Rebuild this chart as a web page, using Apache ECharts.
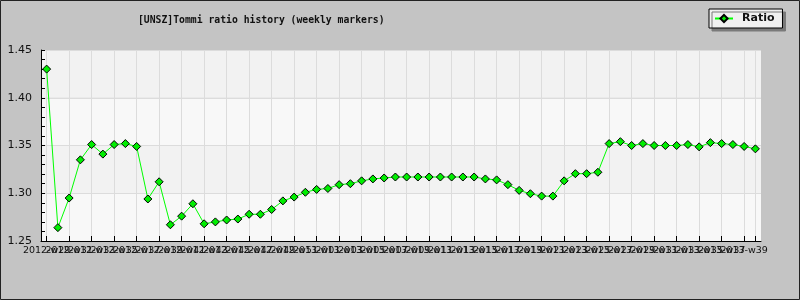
<!DOCTYPE html>
<html>
<head>
<meta charset="utf-8">
<script src="https://cdn.jsdelivr.net/npm/echarts@6/dist/echarts.min.js"></script>
<style>html,body{margin:0;padding:0;background:#c4c4c4}#c{width:800px;height:300px}</style>
</head>
<body>
<div id="c"></div>
<script>
const titleText = '[UNSZ]Tommi ratio history (weekly markers)';
const seriesName = 'Ratio';
const weeks = [
 '2012-w29','2012-w30','2012-w31','2012-w32','2012-w33','2012-w34','2012-w35','2012-w36',
 '2012-w37','2012-w38','2012-w39','2012-w40','2012-w41','2012-w42','2012-w43','2012-w44',
 '2012-w45','2012-w46','2012-w47','2012-w48','2012-w49','2012-w50','2012-w51','2012-w52',
 '2013-w01','2013-w02','2013-w03','2013-w04','2013-w05','2013-w06','2013-w07','2013-w08',
 '2013-w09','2013-w10','2013-w11','2013-w12','2013-w13','2013-w14','2013-w15','2013-w16',
 '2013-w17','2013-w18','2013-w19','2013-w20','2013-w21','2013-w22','2013-w23','2013-w24',
 '2013-w25','2013-w26','2013-w27','2013-w28','2013-w29','2013-w30','2013-w31','2013-w32',
 '2013-w33','2013-w34','2013-w35','2013-w36','2013-w37','2013-w38','2013-w39','2013-w40'
];
const ratio = [
 1.430,1.264,1.295,1.335,1.351,1.341,1.351,1.352,
 1.349,1.294,1.312,1.267,1.276,1.289,1.268,1.270,
 1.272,1.273,1.278,1.278,1.283,1.292,1.296,1.301,
 1.304,1.305,1.309,1.310,1.313,1.315,1.316,1.317,
 1.317,1.317,1.317,1.317,1.317,1.317,1.317,1.315,
 1.314,1.309,1.303,1.2995,1.297,1.297,1.313,1.3205,
 1.3205,1.322,1.352,1.354,1.350,1.352,1.350,1.350,
 1.350,1.351,1.3486,1.353,1.352,1.351,1.349,1.3465
];
const yMin = 1.25, yMax = 1.45, yStep = 0.05;

const chart = echarts.init(document.getElementById('c'), null, {renderer:'canvas'});
chart.setOption({
  animation: false,
  backgroundColor: '#c4c4c4',
  title: {
    text: titleText, left: 138, top: 15, padding: 0,
    textStyle: {fontFamily: 'DejaVu Sans Mono', fontSize: 9.75, fontWeight: 'bold', color: '#111'}
  },
  legend: {
    data: [seriesName], left: 709, top: 9,
    padding: [4, 8, 4, 5], itemWidth: 18, itemHeight: 9, itemGap: 0,
    backgroundColor: '#f0f0f0', borderColor: '#000', borderWidth: 1,
    shadowColor: '#7a7a7a', shadowBlur: 0, shadowOffsetX: 3, shadowOffsetY: 3,
    textStyle: {fontFamily: 'DejaVu Sans', fontSize: 11, fontWeight: 'bold', color: '#111', padding: [0, 0, 0, 4]}
  },
  graphic: [{type:'rect', shape:{x:0.5,y:0.5,width:799,height:299}, style:{fill:'none', stroke:'#222', lineWidth:1}, z:100}],
  grid: {left: 41, right: 39, top: 50, bottom: 59},
  xAxis: {
    type: 'category', data: weeks, boundaryGap: true,
    axisLine: {lineStyle: {color: '#000', width: 1}},
    axisTick: {show: true, inside: true, length: 5, interval: 1, alignWithLabel: true, lineStyle: {color: '#000'}},
    axisLabel: {interval: 0, formatter: (v, i) => (i % 2 === 0 ? v : ''),
      margin: 5, hideOverlap: false, showMinLabel: true, showMaxLabel: false,
      alignMinLabel: 'center', alignMaxLabel: 'center',
      fontFamily: 'DejaVu Sans', fontSize: 9.5, color: '#111'},
    splitLine: {show: true, interval: 1, alignWithLabel: true, lineStyle: {color: '#dcdcdc', width: 1}}
  },
  yAxis: {
    type: 'value', min: yMin, max: yMax, interval: yStep,
    axisLine: {show: true, lineStyle: {color: '#000', width: 1}},
    axisTick: {show: true, inside: true, length: 4, lineStyle: {color: '#000'}},
    minorTick: {show: true, splitNumber: 5, length: 4, lineStyle: {color: '#000'}},
    axisLabel: {margin: 9, fontFamily: 'DejaVu Sans', fontSize: 11, color: '#111', formatter: v => v.toFixed(2)},
    splitLine: {show: true, lineStyle: {color: '#dcdcdc', width: 1}},
    splitArea: {show: true, areaStyle: {color: ['#f8f8f8', '#f2f2f2']}}
  },
  series: [{
    name: seriesName, type: 'line', data: ratio,
    symbol: 'diamond', symbolSize: 8, showSymbol: true, showAllSymbol: true,
    lineStyle: {color: '#00ff00', width: 1},
    itemStyle: {color: '#00ee00', borderColor: '#000', borderWidth: 1}
  }]
});
</script>
</body>
</html>
